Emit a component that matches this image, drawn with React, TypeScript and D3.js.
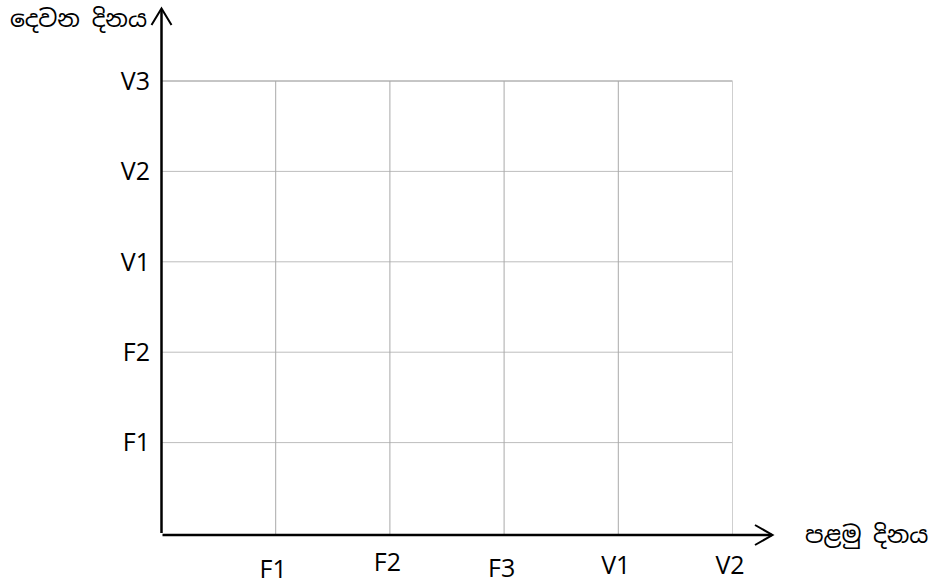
import React from "react";
import { scaleLinear } from "d3";

// categories on each axis (first day along x, second day along y)
const xCategories = ["F1", "F2", "F3", "V1", "V2"];
const yCategories = ["F1", "F2", "V1", "V2", "V3"];
const xTitle = "පළමු දිනය";
const yTitle = "දෙවන දිනය";

// small vertical nudges of the x tick labels as they sit in the picture
const xLabelDy = [4, -3, 3, 0, 0];

const W = 931;
const H = 585;
const sinhala = "'Noto Sans Sinhala', 'Iskoola Pota', 'Noto Sans', sans-serif";
const latin = "'Open Sans', 'Noto Sans', sans-serif";

const App = () => {
      const ox = 161.5;
      const oy = 533;
      const xScale = scaleLinear().domain([0, xCategories.length]).range([ox, 732.5]);
      const yScale = scaleLinear().domain([0, yCategories.length]).range([oy, 81]);

      const top = yScale(yCategories.length);
      const right = xScale(xCategories.length);

      return (
            <svg width={W} height={H} style={{ position: "absolute", left: 0, top: 0, background: "#fff" }}>
                  {/* grid */}
                  {yCategories.map((c, i) => (
                        <line key={"h" + c} x1={ox} x2={right} y1={yScale(i + 1)} y2={yScale(i + 1)}
                              stroke={i === yCategories.length - 1 ? "#8c8c8c" : "#bdbdbd"} strokeWidth={1} />
                  ))}
                  {xCategories.map((c, i) => (
                        <line key={"v" + c} x1={xScale(i + 1)} x2={xScale(i + 1)} y1={top} y2={oy + 2}
                              stroke={i === xCategories.length - 1 ? "#cfcfcf" : "#a9a9a9"} strokeWidth={1} />
                  ))}

                  {/* axes with open arrow heads */}
                  <line x1={ox} x2={ox} y1={9} y2={oy} stroke="#000" strokeWidth={2.5} />
                  <path d={`M${ox - 10},25 L${ox},8.5 L${ox + 10},25`} fill="none" stroke="#000" strokeWidth={2} />
                  <line x1={ox + 1} x2={772} y1={oy + 2} y2={oy + 2} stroke="#000" strokeWidth={2.5} />
                  <path d={`M755,${oy - 8} L772.5,${oy + 2} L755,${oy + 12}`} fill="none" stroke="#000" strokeWidth={2} />

                  {/* tick labels */}
                  {yCategories.map((c, i) => (
                        <text key={"yl" + c} x={150} y={yScale(i + 1)} dy="0.35em" textAnchor="end"
                              fontFamily={latin} fontSize={25} fill="#000">{c}</text>
                  ))}
                  {xCategories.map((c, i) => (
                        <text key={"xl" + c} x={xScale(i + 1) - 2.5} y={574 + xLabelDy[i]} textAnchor="middle"
                              fontFamily={latin} fontSize={25} fill="#000">{c}</text>
                  ))}

                  {/* axis titles */}
                  <text x={147} y={27} textAnchor="end" fontFamily={sinhala} fontSize={23.5} fill="#000">{yTitle}</text>
                  <text x={805} y={oy + 10} fontFamily={sinhala} fontSize={23.5} fill="#000">{xTitle}</text>
            </svg>
      );
};

export default App;
